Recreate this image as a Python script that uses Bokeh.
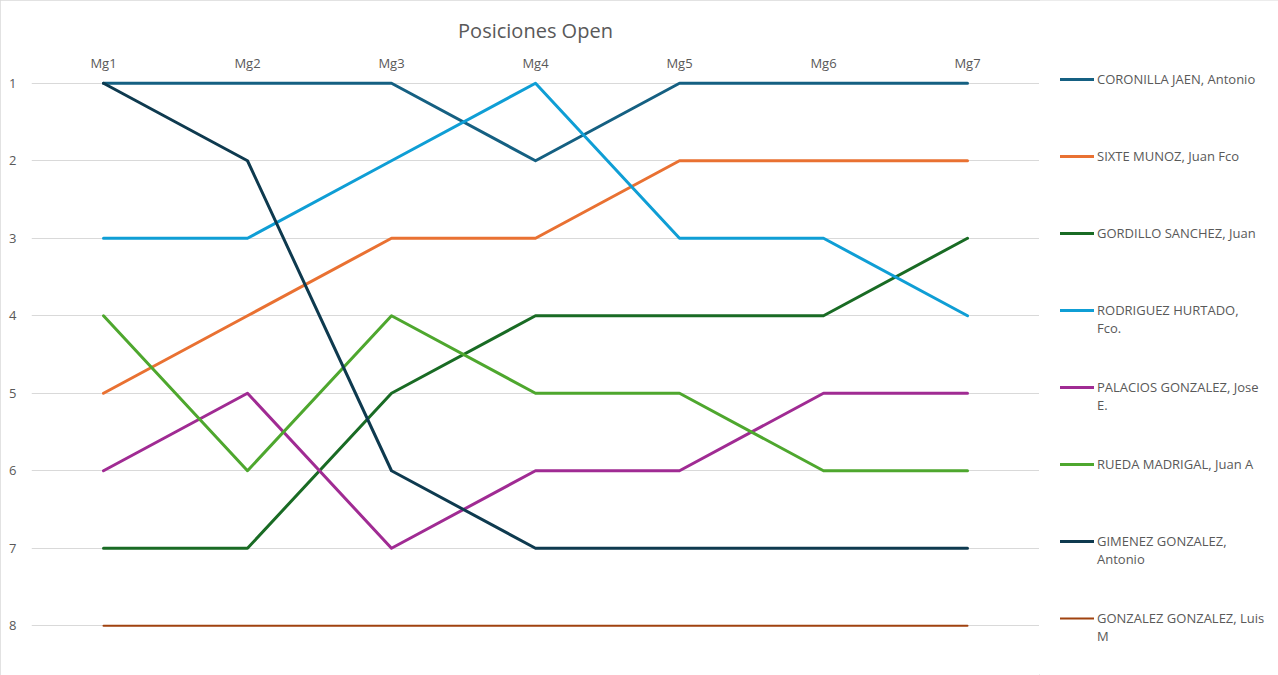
from bokeh.plotting import figure
from bokeh.layouts import row
from bokeh.models import Range1d, FactorRange, Legend, LegendItem, FixedTicker
from bokeh.embed import file_html
from bokeh.resources import INLINE

rounds = ["Mg1", "Mg2", "Mg3", "Mg4", "Mg5", "Mg6", "Mg7"]
positions_ticks = [1, 2, 3, 4, 5, 6, 7, 8]

# legend names, as wrapped in the reference
names = [
    ["CORONILLA JAEN, Antonio"],
    ["SIXTE MUNOZ, Juan Fco"],
    ["GORDILLO SANCHEZ, Juan"],
    ["RODRIGUEZ HURTADO,", "Fco."],
    ["PALACIOS GONZALEZ, Jose", "E."],
    ["RUEDA MADRIGAL, Juan A"],
    ["GIMENEZ GONZALEZ,", "Antonio"],
    ["GONZALEZ GONZALEZ, Luis", "M"],
]

coronilla = [1, 1, 1, 2, 1, 1, 1]
sixte = [5, 4, 3, 3, 2, 2, 2]
gordillo = [7, 7, 5, 4, 4, 4, 3]
rodriguez = [3, 3, 2, 1, 3, 3, 4]
palacios = [6, 5, 7, 6, 6, 5, 5]
rueda = [4, 6, 4, 5, 5, 6, 6]
gimenez = [1, 2, 6, 7, 7, 7, 7]
gonzalez = [8, 8, 8, 8, 8, 8, 8]

series = [coronilla, sixte, gordillo, rodriguez, palacios, rueda, gimenez, gonzalez]
colors = ["#156082", "#E97132", "#196B24", "#0F9ED5", "#A02B93", "#4EA72E", "#0E3A4F", "#A0420F"]
widths = [3, 3, 3, 3, 3, 3, 3, 2]

FONT = "Open Sans"
GREY = "#595959"

H = 675
W_MAIN, W_LEG = 1039, 239
ML, MT, MB = 31, 75, 11

p = figure(
    width=W_MAIN, height=H,
    x_range=FactorRange(*rounds),
    y_range=Range1d(8.5, 0.9),
    x_axis_location="above",
    output_backend="svg", toolbar_location=None,
    min_border_left=ML, min_border_right=0, min_border_top=MT, min_border_bottom=MB,
    title="Posiciones Open",
)
p.outline_line_color = None
p.background_fill_color = "white"
p.border_fill_color = "white"

p.title.text_font = FONT
p.title.text_font_size = "20px"
p.title.text_font_style = "normal"
p.title.text_color = GREY
p.title.align = "center"
p.title.standoff = 14

for ax in (p.xaxis[0], p.yaxis[0]):
    ax.axis_line_color = None
    ax.major_tick_line_color = None
    ax.minor_tick_line_color = None
    ax.major_tick_out = 0
    ax.major_tick_in = 0
    ax.major_label_text_font = FONT
    ax.major_label_text_font_size = "13px"
    ax.major_label_text_color = GREY
p.xaxis.major_label_standoff = 4
p.yaxis.major_label_standoff = 15
p.yaxis.ticker = FixedTicker(ticks=positions_ticks)

p.xgrid.visible = False
p.ygrid.grid_line_color = "#D9D9D9"
p.ygrid.grid_line_width = 1

for vals, c, w in zip(series, colors, widths):
    p.line(rounds, vals, line_color=c, line_width=w, line_join="round", line_cap="round")

# legend panel to the right of the chart
pl = figure(
    width=W_LEG, height=H,
    x_range=Range1d(0, 1), y_range=Range1d(0, 1),
    x_axis_type=None, y_axis_type=None,
    output_backend="svg", toolbar_location=None,
    min_border=0,
)
pl.outline_line_color = None
pl.grid.visible = False
pl.background_fill_color = "white"
pl.border_fill_color = "white"

aligned = True
if "frame_align" in pl.properties():
    pl.frame_align = False
    p.frame_align = False
    aligned = False
frame_bottom = (H - MB) if aligned else H
shift = 5 if aligned else 0

nan = float("nan")
swatches = [
    pl.line(x=[nan, nan], y=[nan, nan], line_color=c, line_width=w, line_cap="round")
    for c, w in zip(colors, widths)
]


def legend_label(lines):
    # a blank line above a wrapped name keeps its first line level with the swatch
    return "\n".join(lines) if len(lines) == 1 else "\n".join([""] + lines)


ITEM_H = 77
legend_top = 79 + shift - ITEM_H / 2
legend = Legend(
    items=[LegendItem(label=legend_label(n), renderers=[r]) for n, r in zip(names, swatches)],
    location=(21, frame_bottom - legend_top - ITEM_H * len(names)),
    nrows=len(names), ncols=1,
    padding=0, margin=0, spacing=0,
    glyph_width=34, glyph_height=16, label_height=ITEM_H, label_standoff=3,
    border_line_color=None, background_fill_alpha=0,
    label_text_font=FONT, label_text_font_size="13px", label_text_color=GREY,
)
pl.add_layout(legend, "center")

layout = row(p, pl, spacing=0)
layout.styles = {"outline": "1px solid #D9D9D9", "outline-offset": "-1px"}
open("out.html", "w").write(file_html(layout, INLINE))
